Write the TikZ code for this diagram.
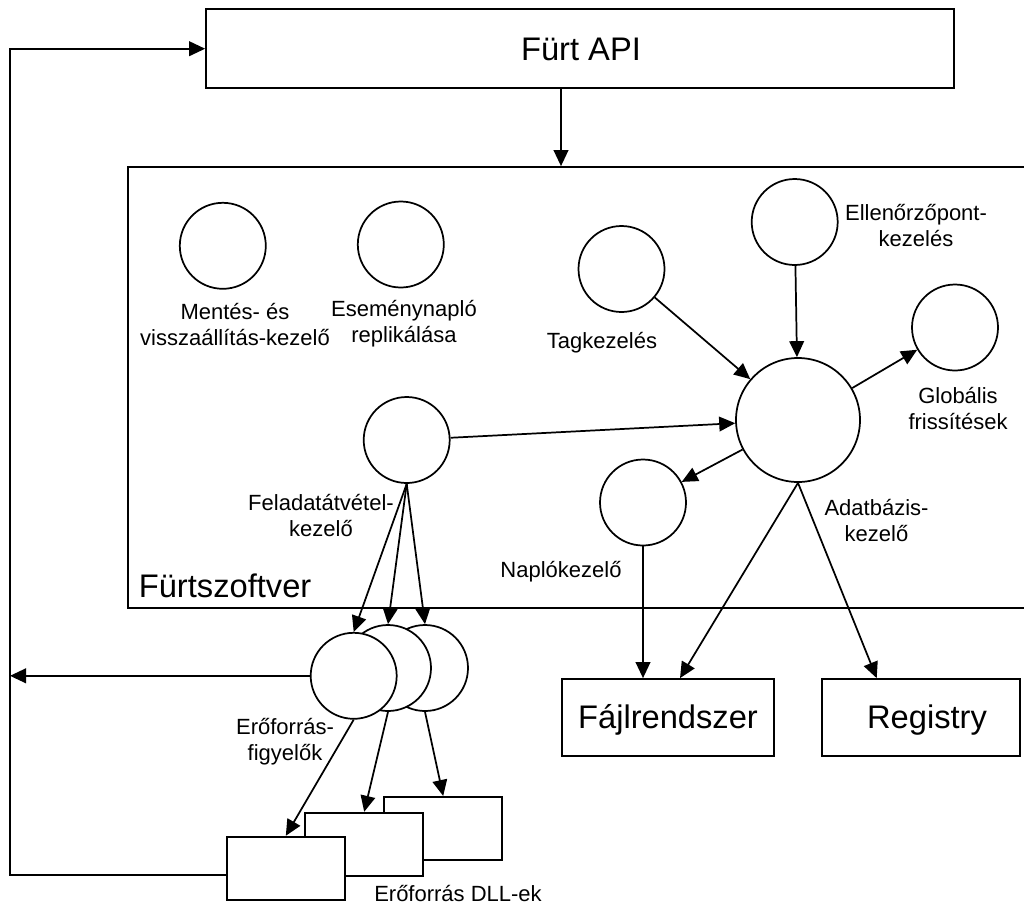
\documentclass[tikz,border=0pt]{standalone}
\usepackage{fontspec}
\setmainfont{Liberation Sans}
\usetikzlibrary{arrows.meta,calc,fit}

\begin{document}
\begin{tikzpicture}[x=0.75pt,y=-0.75pt,
  line width=1.3pt,
  arr/.style={-{Triangle[length=12pt,width=11pt]}},
  proc/.style={circle,draw,fill=white,inner sep=0pt,minimum size=86*0.75pt},
  bigproc/.style={circle,draw,fill=white,inner sep=0pt,minimum size=124*0.75pt},
  boxnode/.style={rectangle,draw,fill=white,inner sep=0pt},
  lbl/.style={align=center,inner sep=0pt,font=\fontsize{16.5}{19.5}\selectfont},
  biglbl/.style={inner sep=0pt,font=\fontsize{24.5}{29}\selectfont}]
\useasboundingbox (0,0) rectangle (1024,904);
\clip (0,0) rectangle (1024,904);

% top-level API and the cluster software frame
\node[boxnode,minimum width=748*0.75pt,minimum height=78.7*0.75pt] (api) at (580,48.7) {};
\node[biglbl] (apilbl) at (581,49) {Fürt API};
\node[boxnode,fit={(127.7,167) (1040,607.7)}] (sw) {};
\node[biglbl,anchor=base west] (swlbl) at (138,597) {Fürtszoftver};

% components inside the cluster software
\node[proc] (ment) at (222.8,245.8) {};
\node[lbl] (mentlbl) at (235,324) {Mentés- és\\visszaállítás-kezelő};
\node[proc] (esem) at (400.8,244.5) {};
\node[lbl] (esemlbl) at (404,324) {Eseménynapló\\replikálása};
\node[proc] (tag) at (621.5,269) {};
\node[lbl] (taglbl) at (602,342.7) {Tagkezelés};
\node[proc] (ell) at (794.7,222) {};
\node[lbl] (elllbl) at (916,226) {Ellenőrzőpont-\\kezelés};
\node[bigproc] (db) at (798,420) {};
\node[lbl] (dblbl) at (876.5,520.5) {Adatbázis-\\kezelő};
\node[proc] (glob) at (955,327.5) {};
\node[lbl] (globlbl) at (958,408) {Globális\\frissítések};
\node[proc] (napl) at (643,502.5) {};
\node[lbl] (napllbl) at (561,572) {Naplókezelő};
\node[proc] (fel) at (406.7,440) {};
\node[lbl] (fellbl) at (321,515) {Feladatátvétel-\\kezelő};

% storage targets
\node[boxnode,minimum width=212.6*0.75pt,minimum height=77*0.75pt] (fajl) at (668,717.5) {};
\node[biglbl] (fajllbl) at (668,720) {Fájlrendszer};
\node[boxnode,minimum width=198.3*0.75pt,minimum height=77*0.75pt] (reg) at (921,717.5) {};
\node[biglbl] (reglbl) at (927,720) {Registry};

% resource monitors, stacked back to front
\node[proc] (mon3) at (425,668) {};
\node[proc] (mon2) at (388,668) {};
\node[proc] (mon1) at (353.7,675.8) {};
\node[lbl] (monlbl) at (285,741.5) {Erőforrás-\\figyelők};

% resource DLLs, stacked back to front
\node[boxnode,minimum width=118.3*0.75pt,minimum height=63.3*0.75pt] (dll3) at (443.2,828.5) {};
\node[boxnode,minimum width=118.3*0.75pt,minimum height=63.3*0.75pt] (dll2) at (364.2,844.3) {};
\node[boxnode,minimum width=118.3*0.75pt,minimum height=63.3*0.75pt] (dll1) at (285.8,868.3) {};
\node[lbl] (dlllbl) at (458,893) {Erőforrás DLL-ek};

% helper points for the outer feedback loop
\coordinate (loopbot) at (10,875);
\coordinate (looptop) at (10,48.7);
\coordinate (apix) at (561,0);

% connectors
\draw[arr] (api.south -| apix) -- (sw.north -| apix);
\draw[arr] (tag) -- (db);
\draw[arr] (ell) -- (db);
\draw[arr] (db) -- (glob);
\draw[arr] (fel) -- (db);
\draw[arr] (db) -- (napl);
\draw[arr] (napl.south) -- (napl.south |- fajl.north);
\draw[arr] (db.south) -- ($(fajl.north)+(12,0)$);
\draw[arr] (db.south) -- ($(reg.north)+(-44.3,0)$);

\draw[arr] (fel.south) -- (mon1.north);
\draw[arr] (fel.south) -- (mon2.north);
\draw[arr] (fel.south) -- (mon3.north);

\draw[arr] (mon1.south) -- (dll1.north);
\draw[arr] (mon2.south) -- (dll2.north);
\draw[arr] (mon3.south) -- (dll3.north);

\draw[arr] (mon1.west) -- (mon1.west -| loopbot);
\draw[arr] (dll1.west |- loopbot) -- (loopbot) -- (looptop) -- (api.west);
\end{tikzpicture}
\end{document}
